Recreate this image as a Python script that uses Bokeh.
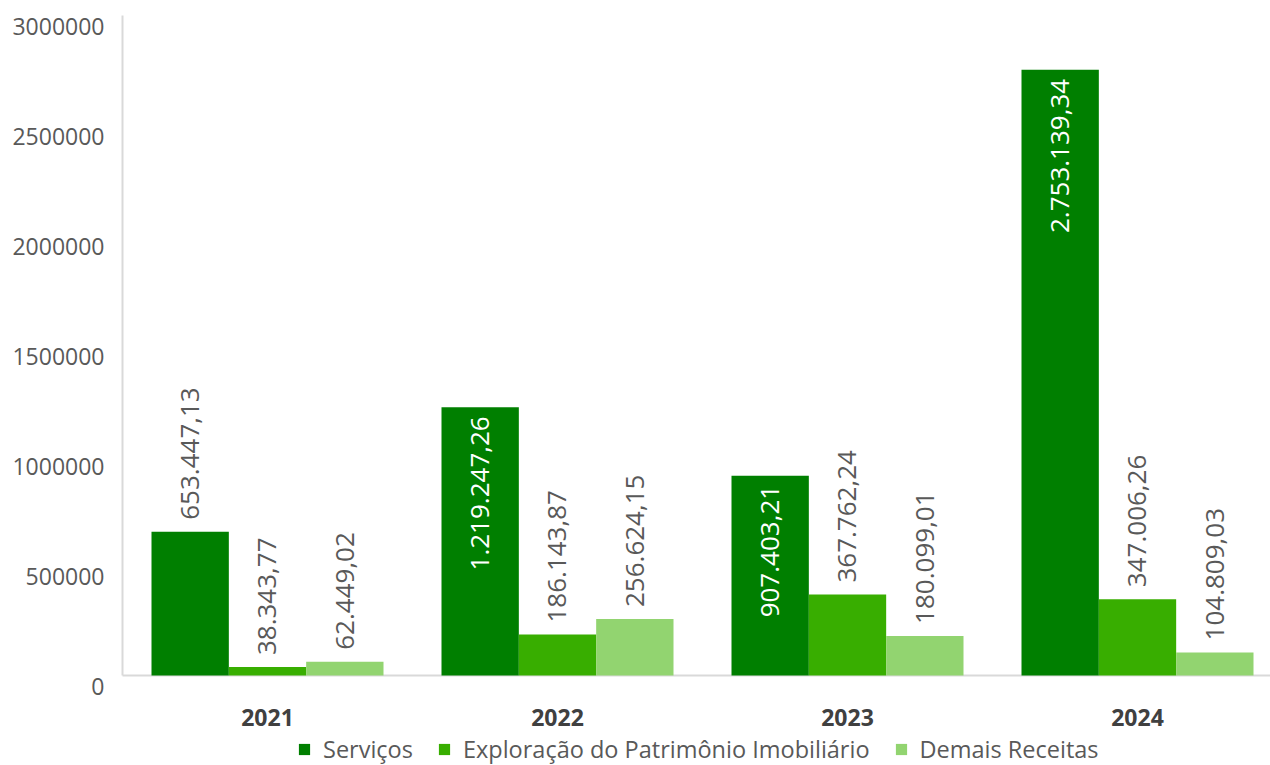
import numpy as np
from bokeh.plotting import figure
from bokeh.models import (ColumnDataSource, LabelSet, Legend, LegendItem, Range1d)
from bokeh.core.properties import value
from bokeh.embed import file_html
from bokeh.resources import INLINE

# ---- data ----
years = ["2021", "2022", "2023", "2024"]
series_names = ["Serviços", "Exploração do Patrimônio Imobiliário", "Demais Receitas"]
servicos = [653447.13, 1219247.26, 907403.21, 2753139.34]
exploracao = [38343.77, 186143.87, 367762.24, 347006.26]
demais = [62449.02, 256624.15, 180099.01, 104809.03]
y_ticks = [0, 500000, 1000000, 1500000, 2000000, 2500000, 3000000]
y_tick_labels = ["0", "500000", "1000000", "1500000", "2000000", "2500000", "3000000"]

colors = ["#007F00", "#38AE00", "#92D470"]
FONT = value("Open Sans")
TXT = "#595959"
AXIS = "#D9D9D9"


def fmt_br(v):
    s = f"{v:,.2f}"
    return s.replace(",", "X").replace(".", ",").replace("X", ".")


# ---- geometry (screen pixels) ----
W, H = 1270, 765
AREA_L, AREA_T, AREA_B = 122, 15, 675    # plotting area inside the canvas
GROUP_PX = 290                           # pixels per category group
Y_MAX = 3000000
px_per_val = (AREA_B - AREA_T) / Y_MAX

x_lo = -AREA_L / GROUP_PX
x_hi = (W - AREA_L) / GROUP_PX
y_hi = Y_MAX + AREA_T / px_per_val
y_lo = -(H - AREA_B) / px_per_val

p = figure(width=W, height=H, output_backend="svg", toolbar_location=None,
           x_range=Range1d(x_lo, x_hi), y_range=Range1d(y_lo, y_hi),
           min_border=0, x_axis_type=None, y_axis_type=None)
p.outline_line_color = None
p.grid.visible = False
p.background_fill_color = "white"
p.border_fill_color = "white"

# axis lines
p.segment(x0=[0, 0], y0=[0, 0], x1=[0, x_hi], y1=[Y_MAX, 0],
          line_color=AXIS, line_width=2)

centers = np.arange(len(years)) + 0.5
bw = 0.8 / 3
all_series = [servicos, exploracao, demais]

out_x, out_y, out_t = [], [], []
in_x, in_y, in_t = [], [], []
legend_items = []
for k, (name, vals, col) in enumerate(zip(series_names, all_series, colors)):
    xs = centers + (k - 1) * bw
    r = p.vbar(x=xs, top=vals, width=bw, fill_color=col, line_color=None)
    legend_items.append(LegendItem(label=name, renderers=[r]))
    for x, v in zip(xs, vals):
        if v >= 700000:
            in_x.append(x); in_y.append(v); in_t.append(fmt_br(v))
        else:
            out_x.append(x); out_y.append(v); out_t.append(fmt_br(v))

common = dict(angle=np.pi / 2, text_baseline="middle",
              text_font=FONT, text_font_size="26px")
p.add_layout(LabelSet(x="x", y="y", text="t",
                      source=ColumnDataSource(dict(x=out_x, y=out_y, t=out_t)),
                      text_align="left", y_offset=12, text_color=TXT, **common))
p.add_layout(LabelSet(x="x", y="y", text="t",
                      source=ColumnDataSource(dict(x=in_x, y=in_y, t=in_t)),
                      text_align="right", y_offset=-9, text_color="white", **common))

# y tick labels (drawn slightly below their tick value, as in the reference)
p.add_layout(LabelSet(x="x", y="y", text="t",
                      source=ColumnDataSource(dict(x=[0] * len(y_ticks), y=y_ticks,
                                                   t=y_tick_labels)),
                      text_align="right", text_baseline="middle", x_offset=-18,
                      y_offset=-11, text_color=TXT, text_font=FONT,
                      text_font_size="23px"))

# category labels
p.add_layout(LabelSet(x="x", y="y", text="t",
                      source=ColumnDataSource(dict(x=list(centers), y=[0] * len(years),
                                                   t=years)),
                      text_align="center", text_baseline="middle", y_offset=-42,
                      text_color="#404040", text_font=FONT, text_font_size="23px",
                      text_font_style="bold"))

legend = Legend(items=legend_items, orientation="horizontal", location=(297, 0),
                label_text_font="Open Sans", label_text_font_size="23.5px",
                label_text_color=TXT, glyph_width=14, glyph_height=14,
                label_standoff=12, spacing=24, padding=0, margin=0,
                border_line_color=None, background_fill_alpha=0)
p.add_layout(legend)

open("out.html", "w").write(file_html(p, INLINE))
